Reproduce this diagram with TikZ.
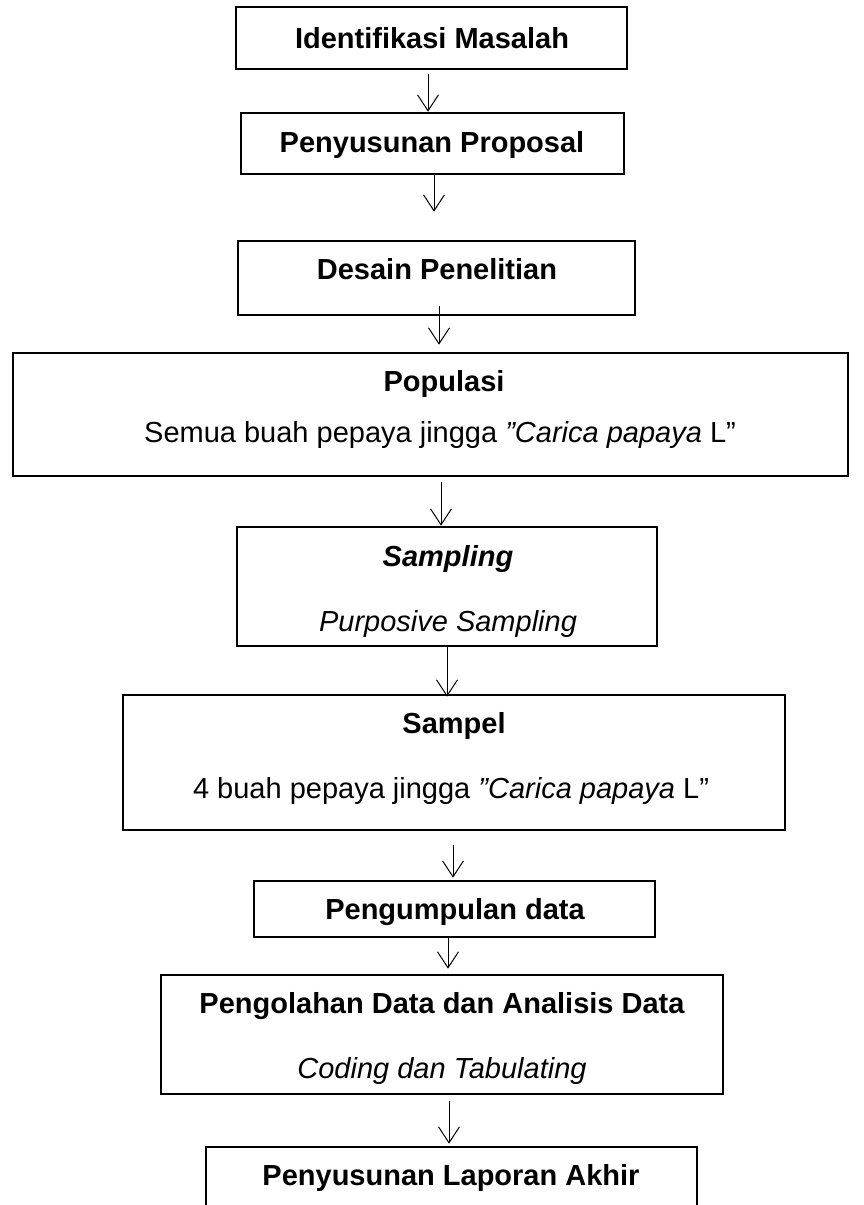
\documentclass[tikz,border=0pt]{standalone}
\usepackage{fontspec}
\setmainfont{Liberation Sans}
\usetikzlibrary{arrows.meta}
\tikzset{
  box/.style={draw=black, line width=2.6pt, rectangle, inner sep=0pt},
  txt/.style={anchor=base, inner sep=0pt, font=\fontsize{29}{34}\selectfont},
  btxt/.style={txt, font=\fontsize{29}{34}\selectfont\bfseries},
  arr/.style={line width=1pt, -{Straight Barb[length=16pt,width=21pt,line width=1pt]}}
}
\begin{document}
\begin{tikzpicture}[x=1pt,y=-1pt]
\useasboundingbox (0,0) rectangle (863,1205);
\clip (0,0) rectangle (863,1205);
% boxes
\node[box, minimum width=391pt, minimum height=62pt] (b1) at (431.5,38) {};
\node[box, minimum width=383pt, minimum height=61pt] (b2) at (432.5,143.5) {};
\node[box, minimum width=397pt, minimum height=74pt] (b3) at (436.5,278) {};
\node[box, minimum width=835pt, minimum height=123pt] (b4) at (430.5,414.5) {};
\node[box, minimum width=420pt, minimum height=119pt] (b5) at (447,586.5) {};
\node[box, minimum width=662pt, minimum height=135pt] (b6) at (454,762.5) {};
\node[box, minimum width=401pt, minimum height=56pt] (b7) at (454.5,909) {};
\node[box, minimum width=562pt, minimum height=119pt] (b8) at (442,1034.5) {};
\node[box, minimum width=491pt, minimum height=93pt] (b9) at (451.5,1193.5) {};
% texts
\node[btxt] (t1) at (432,48) {Identifikasi Masalah};
\node[btxt] (t2) at (432,152) {Penyusunan Proposal};
\node[btxt] (t3) at (437,279) {Desain Penelitian};
\node[btxt] (t4a) at (444,391) {Populasi};
\node[txt] (t4b) at (440,442) {Semua buah pepaya jingga \textit{"Carica papaya} L”};
\node[btxt] (t5a) at (448,566) {\itshape Sampling};
\node[txt] (t5b) at (448,631) {\itshape Purposive Sampling};
\node[btxt] (t6a) at (454,733) {Sampel};
\node[txt] (t6b) at (451,798) {4 buah pepaya jingga \textit{"Carica papaya} L”};
\node[btxt] (t7) at (455,919) {Pengumpulan data};
\node[btxt] (t8a) at (442,1013) {Pengolahan Data dan Analisis Data};
\node[txt] (t8b) at (442,1078) {\itshape Coding dan Tabulating};
\node[btxt] (t9) at (451,1185) {Penyusunan Laporan Akhir};
% arrows
\draw[arr] ([xshift=-3.5pt,yshift=-4pt]b1.south) -- ([xshift=-4.5pt]b2.north);
\draw[arr] ([xshift=1.5pt]b2.south) -- ([xshift=-2.5pt,yshift=28pt]b3.north);
\draw[arr] ([xshift=2.5pt,yshift=10pt]b3.south) -- ([xshift=8.5pt,yshift=7pt]b4.north);
\draw[arr] ([xshift=10.5pt,yshift=-5pt]b4.south) -- ([xshift=-6pt]b5.north);
\draw[arr] (b5.south) -- ([xshift=-7pt,yshift=-3pt]b6.north);
\draw[arr] ([xshift=-1pt,yshift=-14pt]b6.south) -- ([xshift=-1.5pt,yshift=2pt]b7.north);
\draw[arr] ([xshift=-6.5pt]b7.south) -- ([xshift=6pt,yshift=5pt]b8.north);
\draw[arr] ([xshift=7pt,yshift=-6pt]b8.south) -- ([xshift=-2.5pt,yshift=2pt]b9.north);
\end{tikzpicture}
\end{document}
